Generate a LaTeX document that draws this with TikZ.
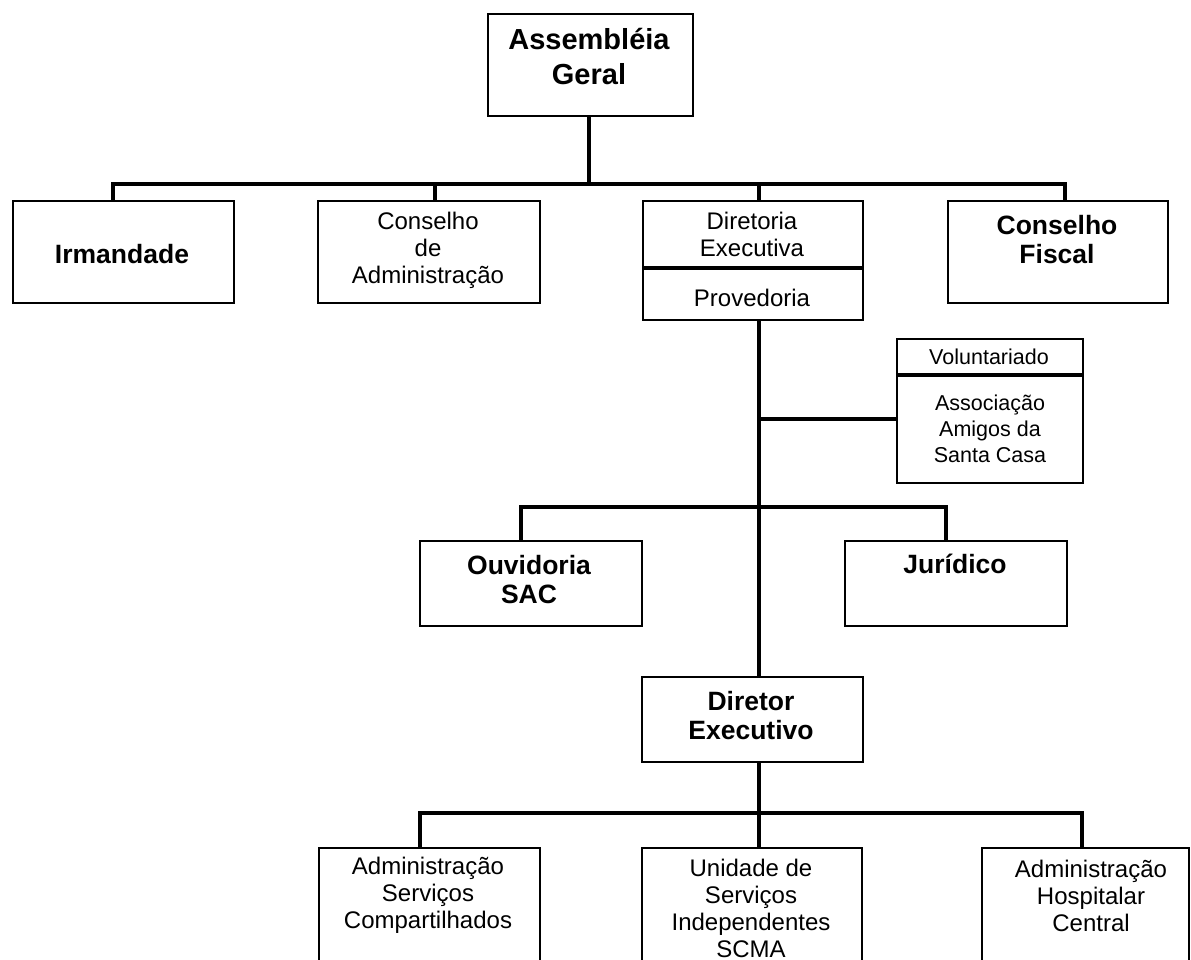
\documentclass[tikz,border=0pt]{standalone}
\usepackage{fontspec}
\setmainfont{Liberation Sans}
\begin{document}
\begin{tikzpicture}[x=1pt,y=-1pt,
  box/.style={draw=black, line width=1.9pt, fill=white, inner sep=0pt, anchor=north west},
  wire/.style={draw=black, line width=3.2pt},
  divline/.style={draw=black, line width=3.2pt},
  big/.style={font=\fontsize{29}{35}\selectfont\bfseries, align=center, inner sep=0pt},
  bld/.style={font=\fontsize{26.5}{29}\selectfont\bfseries, align=center, inner sep=0pt},
  reg/.style={font=\fontsize{24}{27}\selectfont, align=center, inner sep=0pt},
  sml/.style={font=\fontsize{21.5}{26}\selectfont, align=center, inner sep=0pt}]
\useasboundingbox (0,0) rectangle (1191,960);
\clip (0,0) rectangle (1191,960);
\fill[white] (0,0) rectangle (1191,960);

% boxes
\node[box, minimum width=205pt, minimum height=102pt] (ag)  at (487,13) {};
\node[box, minimum width=221pt, minimum height=102pt] (irm) at (12,200) {};
\node[box, minimum width=222pt, minimum height=102pt] (cda) at (317,200) {};
\node[box, minimum width=220pt, minimum height=119pt] (dir) at (642,200) {};
\node[box, minimum width=220pt, minimum height=102pt] (fis) at (947,200) {};
\node[box, minimum width=186pt, minimum height=144pt] (vol) at (896,338) {};
\node[box, minimum width=222pt, minimum height=85pt]  (ouv) at (419,540) {};
\node[box, minimum width=222pt, minimum height=85pt]  (jur) at (844,540) {};
\node[box, minimum width=221pt, minimum height=85pt]  (dex) at (641,676) {};
\node[box, minimum width=221pt, minimum height=130pt] (asc) at (318,847) {};
\node[box, minimum width=220pt, minimum height=130pt] (usi) at (641,847) {};
\node[box, minimum width=207pt, minimum height=130pt] (ahc) at (981,847) {};

% dividers
\path (dir.north west) ++(0,68) coordinate (dd1);
\draw[divline] (dd1) -- (dd1 -| dir.east);
\path (vol.north west) ++(0,37) coordinate (dd2);
\draw[divline] (dd2) -- (dd2 -| vol.east);

% top bus
\coordinate (b1) at (589,184);
\coordinate (c1) at (113,184);
\coordinate (c2) at (435,184);
\coordinate (c3) at (759,184);
\coordinate (c4) at (1065,184);
\draw[wire] (ag.south -| b1) -- (b1);
\draw[wire] (c1 |- irm.north) -- (c1) -- (c4) -- (c4 |- fis.north);
\draw[wire] (c2) -- (c2 |- cda.north);
\draw[wire] (c3) -- (c3 |- dir.north);

% main vertical
\coordinate (vj) at (759,419);
\coordinate (b2) at (759,507);
\coordinate (b3) at (759,813);
\draw[wire] (vj |- dir.south) -- (vj |- dex.north);
\draw[wire] (vj) -- (vj -| vol.west);
\coordinate (o1) at (521,507);
\coordinate (o2) at (946,507);
\draw[wire] (o1 |- ouv.north) -- (o1) -- (o2) -- (o2 |- jur.north);

% bottom bus
\coordinate (d1) at (420,813);
\coordinate (d3) at (1082,813);
\draw[wire] (vj |- dex.south) -- (b3) -- (b3 |- usi.north);
\draw[wire] (d1 |- asc.north) -- (d1) -- (d3) -- (d3 |- ahc.north);

% texts
\node[big] (agt)  at (589,57)  {Assembléia\\Geral};
\node[bld] (irmt) at (122,254) {Irmandade};
\node[reg] (cdat) at (428,250) {Conselho\\de\\Administração};
\node[reg] (dirt) at (752,234) {Diretoria\\Executiva};
\node[reg] (prvt) at (752,298) {Provedoria};
\node[bld] (fist) at (1057,240) {Conselho\\Fiscal};
\node[sml] (volt) at (989,357) {Voluntariado};
\node[sml] (asst) at (990,429) {Associação\\Amigos da\\Santa Casa};
\node[bld] (ouvt) at (529,580) {Ouvidoria\\SAC};
\node[bld] (jurt) at (955,564) {Jurídico};
\node[bld] (dext) at (751,716) {Diretor\\Executivo};
\node[reg] (asct) at (428,895) {Administração\\Serviços\\Compartilhados};
\node[reg] (usit) at (751,908) {Unidade de\\Serviços\\Independentes\\SCMA};
\node[reg] (ahct) at (1091,896) {Administração\\Hospitalar\\Central};
\end{tikzpicture}
\end{document}
